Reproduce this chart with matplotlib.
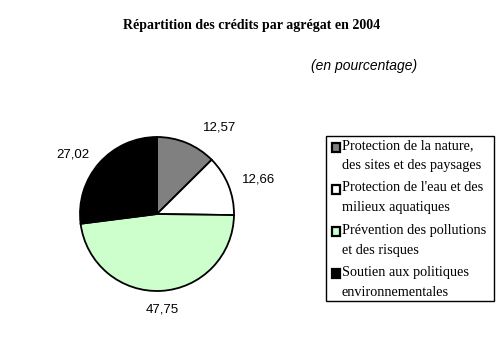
import numpy as np
import matplotlib.pyplot as plt
from matplotlib.patches import Rectangle

categories = ["Protection de la nature,\ndes sites et des paysages",
              "Protection de l'eau et des\nmilieux aquatiques",
              "Prévention des pollutions\net des risques",
              "Soutien aux politiques\nenvironnementales"]
values = [12.57, 12.66, 47.75, 27.02]
value_labels = ["12,57", "12,66", "47,75", "27,02"]
colors = ["#808080", "#ffffff", "#ccffcc", "#000000"]

W, H = 504, 362
fig = plt.figure(figsize=(W/100, H/100), dpi=100, facecolor="white")

# overlay axes in pixel coordinates for title and legend
ov = fig.add_axes([0, 0, 1, 1])
ov.set_xlim(0, W)
ov.set_ylim(H, 0)
ov.axis("off")

ov.text(252, 25, "Répartition des crédits par agrégat en 2004",
        ha="center", va="center", fontsize=10, fontweight="bold",
        family="Liberation Serif")
ov.text(364, 66, "(en pourcentage)", ha="center", va="center",
        fontsize=10, style="italic", family="Liberation Sans")

ax = fig.add_axes([80/W, 71/H, 154/W, 154/H])
wedges, _ = ax.pie(values, colors=colors, startangle=90, counterclock=False,
                   wedgeprops=dict(edgecolor="black", linewidth=1.3))
ax.set_xlim(-1, 1)
ax.set_ylim(-1, 1)
ax.set_aspect("equal")
ax.axis("off")

# label placement: distance and angle tweak per wedge
dist = [1.39, 1.39, 1.24, 1.34]
shift = [-13, -3, 0, 6]
for w, lab, d, s in zip(wedges, value_labels, dist, shift):
    ang = np.deg2rad((w.theta1 + w.theta2) / 2 + s)
    ax.text(d * np.cos(ang), d * np.sin(ang), lab, ha="center", va="center",
            fontsize=9.5, family="Liberation Sans", clip_on=False)

# legend box drawn by hand
ov.add_patch(Rectangle((326, 136), 168, 165, facecolor="white",
                       edgecolor="black", linewidth=1.0))
for i, (lab, c) in enumerate(zip(categories, colors)):
    y0 = 147 + i * 42.3
    ov.add_patch(Rectangle((332, y0 - 4.5), 8, 9, facecolor=c,
                           edgecolor="black", linewidth=1.6))
    ov.text(342, y0 - 8, lab, ha="left", va="top", fontsize=10.3,
            family="Liberation Serif", linespacing=1.7)

fig.savefig("out.png", dpi=100, facecolor="white")
